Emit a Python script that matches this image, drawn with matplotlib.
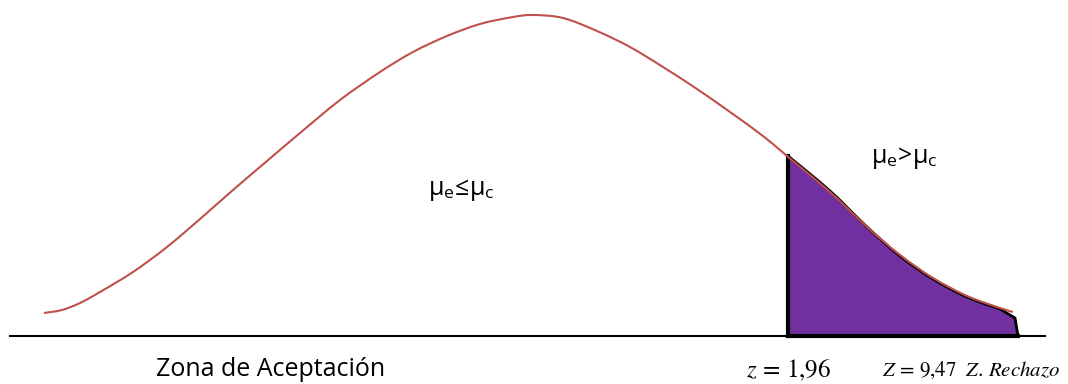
import matplotlib
matplotlib.use("Agg")
import matplotlib.pyplot as plt
from matplotlib.path import Path
from matplotlib.patches import PathPatch
import numpy as np

# Hand-drawn bell curve (x, height above baseline in px units)
curve_x = [44, 62, 80, 100, 133, 167, 200, 233, 267, 300, 340, 380, 413, 447, 480, 513, 533, 563, 597, 630, 663, 697, 730, 763, 787, 830, 867, 900, 933, 967, 1000, 1013]
curve_y = [23, 26, 33, 44, 64, 89, 117, 146, 175, 203, 236, 264, 284, 300, 312, 319, 321, 318, 305, 289, 269, 247, 224, 200, 180, 144, 109, 81, 58, 40, 28, 24]

# rejection region outline (top edge)
crit_x = 788
reg_x = [788, 830, 867, 900, 933, 967, 1000, 1015, 1018]
reg_y = [180, 145, 109, 80, 57, 39, 27, 18, 0]

baseline_x = [10, 1045]

labels = {"accept": "Zona de Aceptación", "z1": "$z\\,=\\,1{,}96$", "z2": "$Z\\,=\\,9{,}47\\ \\ Z.\\,Rechazo$"}


def smooth_path(xs, ys):
    """Catmull-Rom spline rendered as cubic Bezier path through given points."""
    p = np.column_stack([xs, ys]).astype(float)
    verts = [p[0]]
    codes = [Path.MOVETO]
    n = len(p)
    for i in range(n - 1):
        p0 = p[i - 1] if i > 0 else p[i]
        p1 = p[i]
        p2 = p[i + 1]
        p3 = p[i + 2] if i + 2 < n else p[i + 1]
        c1 = p1 + (p2 - p0) / 6.0
        c2 = p2 - (p3 - p1) / 6.0
        verts += [c1, c2, p2]
        codes += [Path.CURVE4] * 3
    return Path(verts, codes)


fig = plt.figure(figsize=(10.68, 3.84), dpi=100)
ax = fig.add_axes([0, 0, 1, 1])
ax.set_xlim(0, 1068)
ax.set_ylim(-48, 336)
ax.axis("off")

plt.rcParams['mathtext.fontset'] = 'stix'

# purple region
top = smooth_path(reg_x[:-2], reg_y[:-2])
poly = top.to_polygons(closed_only=False)[0]
px = np.concatenate([[crit_x], poly[:, 0], reg_x[-2:], [crit_x]])
py = np.concatenate([[0], poly[:, 1], reg_y[-2:], [0]])
ax.fill(px, py, color="#7030A0", zorder=2, lw=0)
ax.add_patch(PathPatch(top, fill=False, ec="black", lw=2.0, zorder=3))
ax.plot(reg_x[-3:], reg_y[-3:], color="black", lw=2.0, zorder=3)
ax.plot([crit_x, crit_x], [0, reg_y[0]], color="black", lw=3, zorder=3, solid_capstyle="projecting")
ax.plot([crit_x, reg_x[-1]], [0, 0], color="black", lw=3, zorder=3)

# curve
ax.add_patch(PathPatch(smooth_path(curve_x, curve_y), fill=False, ec="#C0504D", lw=1.5, zorder=4))

# baseline
ax.plot(baseline_x, [0, 0], color="black", lw=1.5, zorder=3)

fam = ["Open Sans", "DejaVu Sans"]
ax.text(461, 146, "μ$_\\mathregular{e}$≤μ$_\\mathregular{c}$", fontsize=18, family=fam, ha="center", va="center")
ax.text(904, 178, "μ$_\\mathregular{e}$>μ$_\\mathregular{c}$", fontsize=18, family=fam, ha="center", va="center")
ax.text(271, -34, labels["accept"], fontsize=18, family=fam, ha="center", va="center")
ax.text(789, -34, labels["z1"], fontsize=18, ha="center", va="center")
ax.text(971, -34, labels["z2"], fontsize=15, ha="center", va="center")

fig.savefig("out.png", dpi=100)
